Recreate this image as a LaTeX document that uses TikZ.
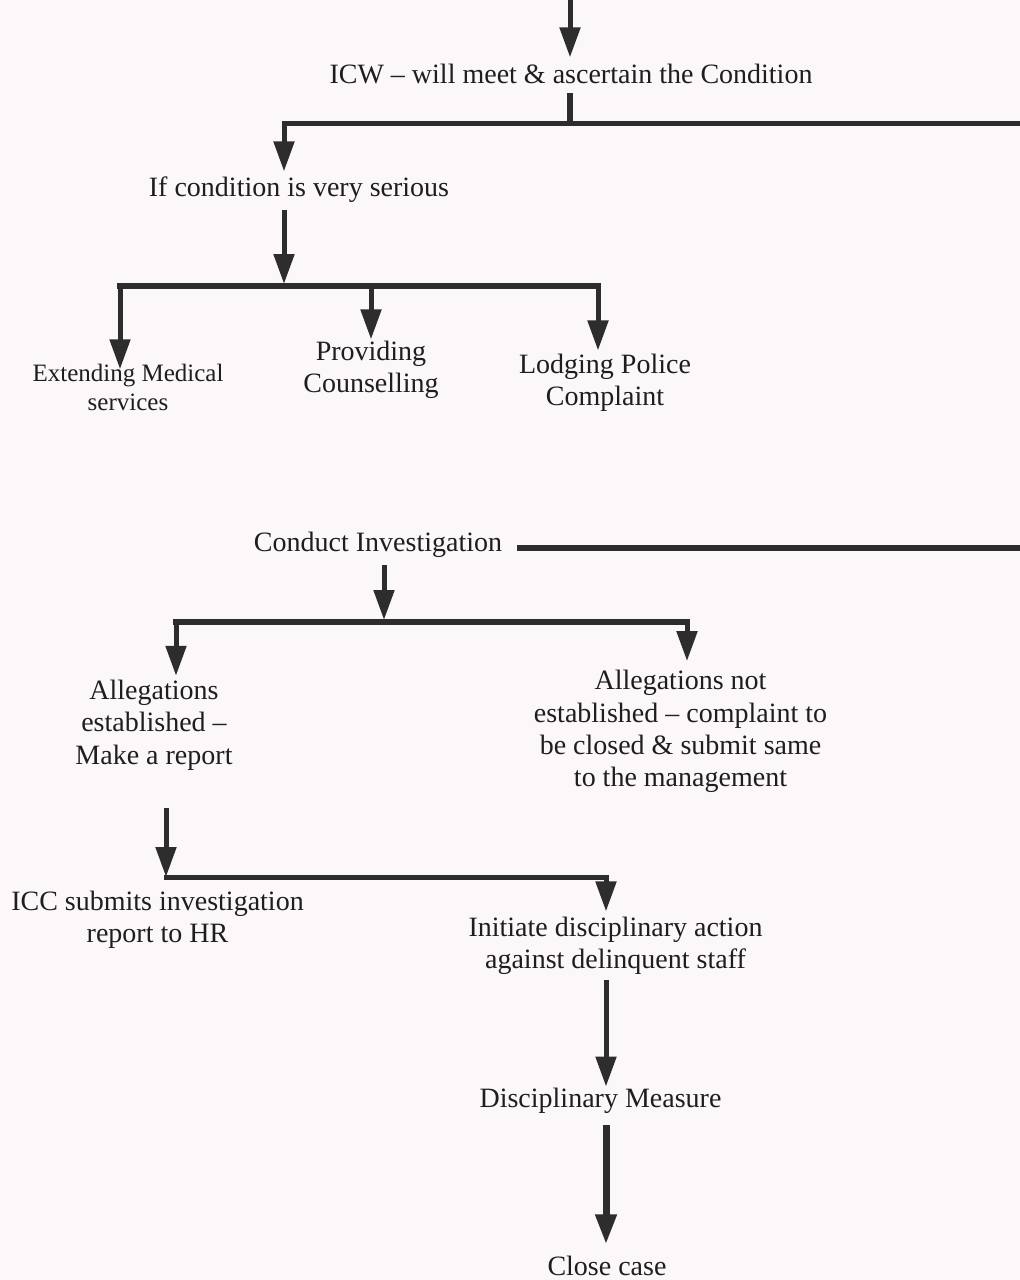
\documentclass[tikz,border=0pt]{standalone}
\usepackage{fontspec}
\setmainfont{Liberation Serif}
\usetikzlibrary{arrows.meta}
\definecolor{paper}{RGB}{252,247,249}
\definecolor{ink}{RGB}{45,45,45}
\definecolor{txt}{RGB}{30,30,30}
\begin{document}
\begin{tikzpicture}[x=1pt,y=-1pt,
  lbl/.style={inner sep=0pt, align=center, text=txt, font=\fontsize{28pt}{32.3pt}\selectfont},
  small/.style={lbl, font=\fontsize{25pt}{28.5pt}\selectfont},
  arr/.style={draw=ink, line width=5pt, line cap=rect, -{Triangle[length=30pt,width=20pt]}},
  bar/.style={draw=ink, line width=5.5pt, line cap=rect}]
\clip (0,0) rectangle (1020,1280);
\fill[paper] (0,0) rectangle (1020,1280);

% text nodes
\node[lbl] (icw)  at (571,73.5)   {ICW – will meet \& ascertain the Condition};
\node[lbl] (cond) at (299,189.5)  {If condition is very serious};
\node[small] (med) at (128,387.5) {Extending Medical\\services};
\node[lbl] (cou)  at (371,369.5)  {Providing\\Counselling};
\node[lbl] (pol)  at (605,382.5)  {Lodging Police\\Complaint};
\node[lbl] (inv)  at (378,544.5)  {Conduct Investigation};
\node[lbl] (est)  at (154,725)    {Allegations\\established –\\Make a report};
\node[lbl] (nest) at (680.5,731.5){Allegations not\\established – complaint to\\be closed \& submit same\\to the management};
\node[lbl] (icc)  at (157.5,919.5){ICC submits investigation\\report to HR};
\node[lbl] (act)  at (615.5,945.5){Initiate disciplinary action\\against delinquent staff};
\node[lbl] (disc) at (600.5,1100.5){Disciplinary Measure};
\node[lbl] (close) at (607,1265.5){Close case};

% junction points
\coordinate (src)  at (570,-5);
\coordinate (b1)   at (570,123);
\coordinate (b1l)  at (284,123);
\coordinate (b1r)  at (1030,123);
\coordinate (b2)   at (284,286);
\coordinate (b2l)  at (120,286);
\coordinate (b2m)  at (371,286);
\coordinate (b2r)  at (598,286);
\coordinate (cline) at (0,548);
\coordinate (ce)   at ([xshift=18pt]inv.east);
\coordinate (cr)   at (1030,548);
\coordinate (b3)   at (384,622);
\coordinate (b3l)  at (176,622);
\coordinate (b3r)  at (687,622);
\coordinate (b4)   at (166,877);
\coordinate (b4r)  at (606,877);
\coordinate (dx)   at (606,0);

% incoming case
\draw[arr, shorten >=6pt] (src) -- (src |- icw.north);

% ICW splits
\draw[bar] ([yshift=-12pt]icw.south -| b1) -- (b1);
\draw[arr, shorten >=5pt] (b1r) -- (b1l) -- (b1l |- cond.north);

% serious condition: three actions
\draw[arr, shorten >=2pt] ([yshift=-10pt]cond.south -| b2) -- (b2);
\draw[bar] (b2l) -- (b2r);
\draw[arr, shorten >=-5pt] (b2l) -- (b2l |- med.north);
\draw[arr, shorten >=1pt] (b2m) -- (b2m |- cou.north);
\draw[arr, shorten >=3pt] (b2r) -- (b2r |- pol.north);

% investigation
\draw[bar] (ce |- cline) -- (cr);
\draw[arr, shorten >=2pt] ([yshift=-10pt]inv.south -| b3) -- (b3);
\draw[bar] (b3l) -- (b3r);
\draw[arr, shorten >=4pt] (b3l) -- (b3l |- est.north);
\draw[arr, shorten >=9pt] (b3r) -- (b3r |- nest.north);

% report and disciplinary action
\draw[arr] ([yshift=-40pt]est.south -| b4) -- (b4);
\draw[arr, shorten >=5pt] (b4) -- (b4r) -- (b4r |- act.north);
\draw[arr, shorten >=1pt] ([yshift=-8pt]act.south -| dx) -- (dx |- disc.north);
\draw[arr, line width=7pt, shorten >=11pt] ([yshift=-15pt]disc.south -| dx) -- (dx |- close.north);
\end{tikzpicture}
\end{document}
